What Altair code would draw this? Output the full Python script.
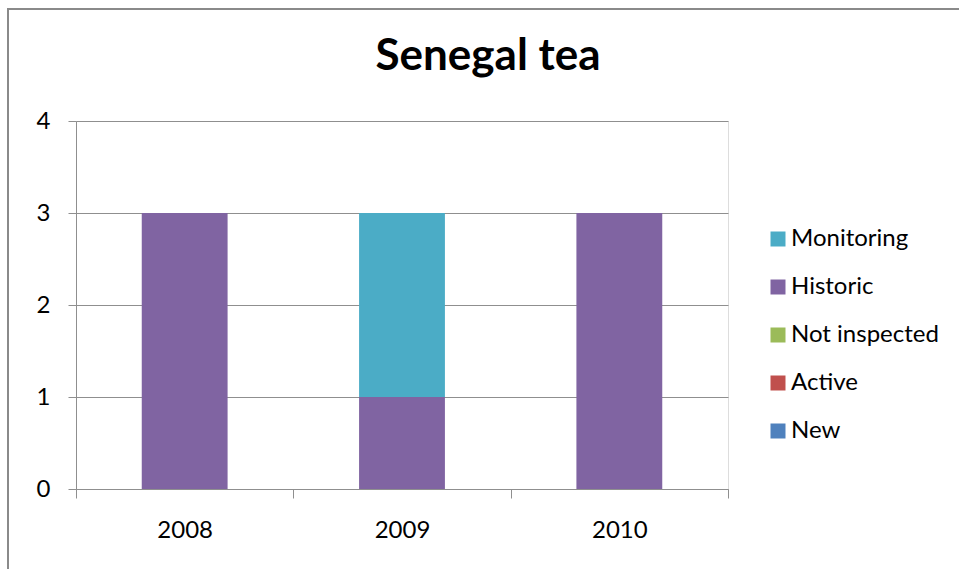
import altair as alt
import pandas as pd

years = ["2008", "2009", "2010"]
series_stack = ["New", "Active", "Not inspected", "Historic", "Monitoring"]
new = [0, 0, 0]
active = [0, 0, 0]
not_inspected = [0, 0, 0]
historic = [3, 1, 3]
monitoring = [0, 2, 0]
colors = ["#4F81BD", "#C0504D", "#9BBB59", "#8064A2", "#4BACC6"]
legend_order = ["Monitoring", "Historic", "Not inspected", "Active", "New"]
y_ticks = [0, 1, 2, 3, 4]

values = {"New": new, "Active": active, "Not inspected": not_inspected,
          "Historic": historic, "Monitoring": monitoring}
rows = []
for si, s in enumerate(series_stack):
    for yi, yr in enumerate(years):
        rows.append({"year": yr, "status": s, "count": values[s][yi], "rank": si})
df = pd.DataFrame(rows)

FONT = "Lato"
GRID = "#8f8f8f"
FS = 24

bars = alt.Chart(df).mark_bar(width={"band": 0.395}).encode(
    x=alt.X("year:N", sort=years, title=None,
            scale=alt.Scale(paddingInner=0, paddingOuter=0),
            axis=alt.Axis(labelAngle=0, tickBand="extent", ticks=True, tickSize=9,
                          tickColor=GRID, domainColor=GRID, labelFont=FONT,
                          labelFontSize=FS, labelColor="#000000", labelPadding=20,
                          grid=False)),
    y=alt.Y("count:Q", stack="zero", title=None,
            scale=alt.Scale(domain=[0, 4], nice=False),
            axis=alt.Axis(values=y_ticks, tickSize=8, tickColor=GRID, domainColor=GRID,
                          gridColor=GRID, grid=True, labelFont=FONT, labelFontSize=FS,
                          labelColor="#000000", labelPadding=18, format="d")),
    color=alt.Color("status:N",
                    scale=alt.Scale(domain=series_stack, range=colors),
                    legend=alt.Legend(title=None, orient="none", legendX=690, legendY=106,
                                      values=legend_order, symbolType="square",
                                      symbolSize=225, symbolStrokeWidth=0,
                                      labelFont=FONT, labelFontSize=FS, labelColor="#000000",
                                      rowPadding=24, labelOffset=1, padding=0)),
    order=alt.Order("rank:Q", sort="ascending"),
)

border = alt.Chart(pd.DataFrame({"k": [0]})).mark_rect(
    filled=False, stroke="#8a8a8a", strokeWidth=2
).encode(x=alt.value(-68), x2=alt.value(1000), y=alt.value(-112), y2=alt.value(700))

chart = alt.layer(border, bars).properties(
    width=652, height=368,
    title=alt.TitleParams("Senegal tea", font=FONT, fontSize=44, fontWeight="bold",
                          color="#000000", frame="group", anchor="middle",
                          baseline="alphabetic", offset=-106, dx=86),
    autosize=alt.AutoSizeParams(type="none"),
    padding={"left": 76, "top": 121, "right": 231, "bottom": 80},
).configure_view(stroke=None).configure(background="#ffffff")

chart.save("out.html", embed_options={"renderer": "svg", "actions": False})
